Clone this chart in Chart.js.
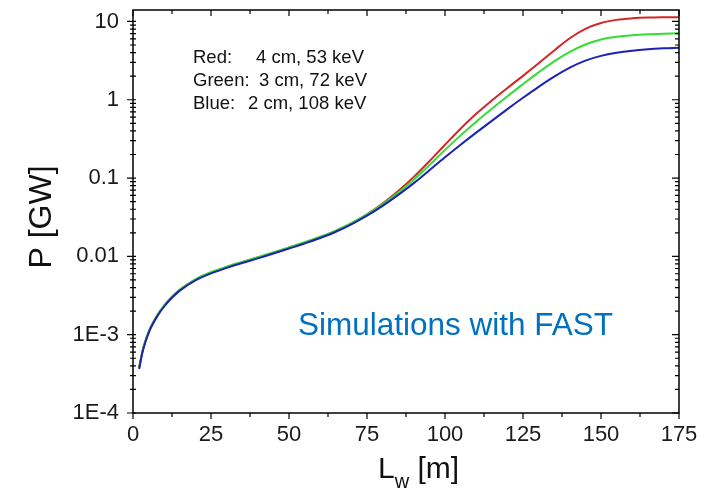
<!DOCTYPE html>
<html><head><meta charset="utf-8">
<script src="https://cdn.jsdelivr.net/npm/chart.js@4.4.1/dist/chart.umd.min.js"></script>
<style>html,body{margin:0;padding:0;background:#fff}#wrap{width:702px;height:500px}</style>
</head><body><div id="wrap"><canvas id="c" width="702" height="500"></canvas></div>
<script>
// Undulator length L_w [m]
const lengths = [2,3,4,5,6,8,10,12,15,20,25,30,35,40,45,50,55,60,65,70,75,80,85,90,95,100,105,110,115,120,125,130,135,140,145,150,155,160,165,170,175];
// Power P [GW]
const powerRed   = [3.81e-4,6.04e-4,8.33e-4,1.073e-3,1.320e-3,1.822e-3,2.347e-3,2.901e-3,3.746e-3,5.05e-3,6.22e-3,7.31e-3,8.42e-3,9.67e-3,0.01113,0.01290,0.01498,0.01760,0.02116,0.0263,0.0344,0.0473,0.0684,0.1035,0.1641,0.2661,0.4266,0.6607,0.9772,1.413,2.018,2.917,4.266,6.095,8.035,9.550,10.47,10.96,11.22,11.32,11.35];
const powerGreen = [3.85e-4,6.10e-4,8.41e-4,1.084e-3,1.333e-3,1.840e-3,2.371e-3,2.930e-3,3.784e-3,5.10e-3,6.28e-3,7.38e-3,8.51e-3,9.77e-3,0.01124,0.01303,0.01513,0.01778,0.02137,0.0266,0.0343,0.0462,0.0653,0.0955,0.1462,0.2291,0.3508,0.5248,0.7674,1.109,1.585,2.239,3.090,4.074,5.070,5.888,6.383,6.683,6.871,6.982,7.047];
const powerBlue  = [3.72e-4,5.89e-4,8.13e-4,1.047e-3,1.288e-3,1.778e-3,2.291e-3,2.831e-3,3.656e-3,4.93e-3,6.07e-3,7.13e-3,8.22e-3,9.44e-3,0.01086,0.01259,0.01462,0.01718,0.02065,0.0257,0.0331,0.0442,0.0610,0.0861,0.1259,0.1841,0.2661,0.3802,0.537,0.759,1.059,1.462,1.972,2.570,3.162,3.631,3.981,4.236,4.416,4.539,4.624];
const xTickValues = [0,25,50,75,100,125,150,175];
const yTickValues = [1e-4,1e-3,1e-2,1e-1,1,10];
const yTickLabels = ['1E-4','1E-3','0.01','0.1','1','10'];
const legendLines = [['Red:','4 cm, 53 keV'],['Green:','3 cm, 72 keV'],['Blue:','2 cm, 108 keV']];
const noteText = 'Simulations with FAST';

const FONT = "'Liberation Sans', Arial, Helvetica, sans-serif";
const toPts = arr => lengths.map((x,i)=>({x:x,y:arr[i]}));

const decor = {
  id:'decor',
  afterDatasetsDraw(chart){
    const ctx = chart.ctx, a = chart.chartArea;
    const xs = chart.scales.x, ys = chart.scales.y;
    ctx.save();
    ctx.strokeStyle = '#000'; ctx.lineWidth = 1.5;
    ctx.strokeRect(a.left, a.top, a.right-a.left, a.bottom-a.top);
    ctx.lineWidth = 1.2;
    ctx.beginPath();
    for (let v=0; v<=175.001; v+=12.5){
      const px = xs.getPixelForValue(v);
      const major = Math.abs(v/25 - Math.round(v/25))<1e-6;
      const L = major?6:4;
      ctx.moveTo(px, a.bottom); ctx.lineTo(px, a.bottom+L);
      ctx.moveTo(px, a.top); ctx.lineTo(px, a.top+L);
    }
    for (let e=-4; e<=1; e++){
      for (let m=1; m<=9; m++){
        const v = m*Math.pow(10,e);
        if (v > ys.max + 1e-12) continue;
        const py = ys.getPixelForValue(v);
        if (m===1){
          ctx.moveTo(a.left-6, py); ctx.lineTo(a.left+3, py);
          ctx.moveTo(a.right, py); ctx.lineTo(a.right-7, py);
        } else {
          ctx.moveTo(a.left-3, py); ctx.lineTo(a.left+3, py);
          ctx.moveTo(a.right, py); ctx.lineTo(a.right-4, py);
        }
      }
    }
    ctx.stroke();
    ctx.fillStyle = '#111';
    ctx.font = '18.5px ' + FONT;
    ctx.textBaseline = 'middle'; ctx.textAlign = 'left';
    const lx = [[193,256],[193,259],[193,248]];
    legendLines.forEach((ln,i)=>{
      const y = 58 + i*23;
      ctx.fillText(ln[0], lx[i][0], y);
      ctx.fillText(ln[1], lx[i][1], y);
    });
    ctx.fillStyle = '#0070C0';
    ctx.font = '31.5px ' + FONT;
    ctx.fillText(noteText, 298, 326);
    ctx.fillStyle = '#111';
    ctx.font = '30px ' + FONT;
    ctx.textBaseline = 'alphabetic';
    let x = 378, yb = 478;
    ctx.fillText('L', x, yb); x += ctx.measureText('L').width;
    ctx.font = '20px ' + FONT;
    ctx.fillText('w', x, yb+10); x += ctx.measureText('w').width;
    ctx.font = '30px ' + FONT;
    ctx.fillText(' [m]', x, yb);
    ctx.save();
    ctx.translate(51, 217); ctx.rotate(-Math.PI/2);
    ctx.textAlign = 'center';
    ctx.font = '32px ' + FONT;
    ctx.fillText('P [GW]', 0, 0);
    ctx.restore();
    ctx.restore();
  }
};

new Chart(document.getElementById('c'), {
  type:'line',
  data:{datasets:[
    {label:'Blue', data:toPts(powerBlue), borderColor:'#1c22b4', borderWidth:2},
    {label:'Green', data:toPts(powerGreen), borderColor:'#33dd33', borderWidth:2},
    {label:'Red', data:toPts(powerRed), borderColor:'#d42626', borderWidth:2}
  ]},
  options:{
    responsive:false, animation:false, devicePixelRatio:1,
    layout:{padding:{left:0,top:10,right:23,bottom:0}},
    elements:{point:{radius:0}, line:{tension:0.35, fill:false, borderCapStyle:'round', borderJoinStyle:'round'}},
    plugins:{legend:{display:false}, tooltip:{enabled:false}},
    scales:{
      x:{type:'linear', min:0, max:175,
        grid:{display:false, drawTicks:false}, border:{display:false},
        afterBuildTicks: s => { s.ticks = xTickValues.map(v=>({value:v})); },
        afterFit: s => { s.height = 87; s.paddingLeft = 0; s.paddingRight = 0; },
        ticks:{font:{family:FONT,size:22}, color:'#1a1a1a', padding:9, maxRotation:0, autoSkip:false}
      },
      y:{type:'logarithmic', min:1e-4, max:14,
        grid:{display:false, drawTicks:false}, border:{display:false},
        afterBuildTicks: s => { s.ticks = yTickValues.map(v=>({value:v})); },
        afterFit: s => { s.width = 133; s.paddingTop = 0; s.paddingBottom = 0; },
        ticks:{font:{family:FONT,size:22}, color:'#1a1a1a', padding:14, autoSkip:false,
          callback:(v,i)=> yTickLabels[i]}
      }
    }
  },
  plugins:[decor]
});
</script></body></html>
